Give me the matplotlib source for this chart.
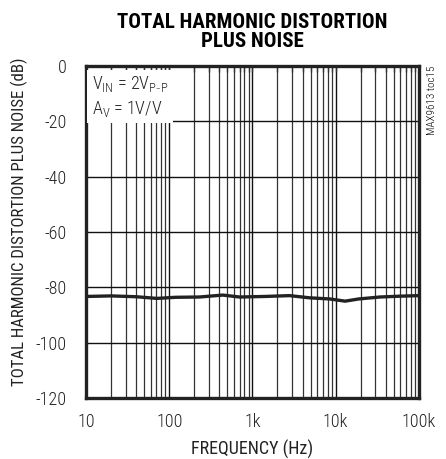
import numpy as np
import matplotlib
matplotlib.use("Agg")
import matplotlib.pyplot as plt
from matplotlib.ticker import FixedLocator, LogLocator, NullFormatter

plt.rcParams['font.family'] = ['Roboto Condensed', 'Archivo Narrow', 'DejaVu Sans']
plt.rcParams['font.weight'] = 'light'

# THD+N versus frequency
freq_hz = [10, 20, 40, 71, 120, 230, 440, 700, 1400, 2800, 4900, 8500, 13000, 19000, 34000, 59000, 100000]
thdn_db = [-83.3, -83.1, -83.4, -84.0, -83.6, -83.5, -82.8, -83.5, -83.3, -83.0, -83.8, -84.2, -85.0, -84.2, -83.5, -83.2, -83.0]

x_ticks = [10, 100, 1000, 10000, 100000]
x_labels = ['10', '100', '1k', '10k', '100k']
y_ticks = [0, -20, -40, -60, -80, -100, -120]

fig = plt.figure(figsize=(4.46, 4.59), dpi=100)
ax = fig.add_axes([0.193, 0.133, 0.746, 0.723])

ax.semilogx(freq_hz, thdn_db, color='#222222', linewidth=2.4, zorder=4)

ax.set_xlim(10, 100000)
ax.set_ylim(-120, 0)
ax.xaxis.set_major_locator(FixedLocator(x_ticks))
ax.set_xticklabels(x_labels)
ax.xaxis.set_minor_locator(LogLocator(base=10, subs=np.arange(2, 10)))
ax.xaxis.set_minor_formatter(NullFormatter())
ax.set_yticks(y_ticks)
ax.set_yticklabels([str(v) for v in y_ticks])

ax.grid(True, which='major', color='#111111', linewidth=1.0)
ax.grid(True, which='minor', axis='x', color='#333333', linewidth=0.9)
ax.tick_params(axis='y', which='both', length=0, labelsize=13, pad=14, labelcolor='#222222')
ax.tick_params(axis='x', which='both', top=True, bottom=False, direction='in',
               length=4, width=1, color='#333333', labelsize=13, pad=11, labelcolor='#222222')
for s in ax.spines.values():
    s.set_linewidth(2.4)
    s.set_color('#222222')

ax.text(0.018, 0.975, '$\\mathregular{V_{IN}}$ = 2$\\mathregular{V_{P\\text{-}P}}$\n$\\mathregular{A_V}$ = 1V/V',
        transform=ax.transAxes, fontsize=13, va='top', ha='left', linespacing=1.2,
        color='#222222', bbox=dict(facecolor='white', edgecolor='none', pad=3.5), zorder=5)

ax.set_xlabel('FREQUENCY (Hz)', fontsize=13, labelpad=6, color='#222222')
ax.set_ylabel('TOTAL HARMONIC DISTORTION PLUS NOISE (dB)', fontsize=12.2, labelpad=6,
              color='#222222')
ax.yaxis.set_label_coords(-0.175, 0.53)
fig.text(0.566, 0.972, 'TOTAL HARMONIC DISTORTION\nPLUS NOISE', ha='center', va='top',
         fontsize=15, fontweight='bold', linespacing=1.0)
fig.text(0.968, 0.856, 'MAX9613 toc15', rotation=90, ha='center', va='top', fontsize=8)

plt.savefig('out.png', dpi=100)
plt.close()
